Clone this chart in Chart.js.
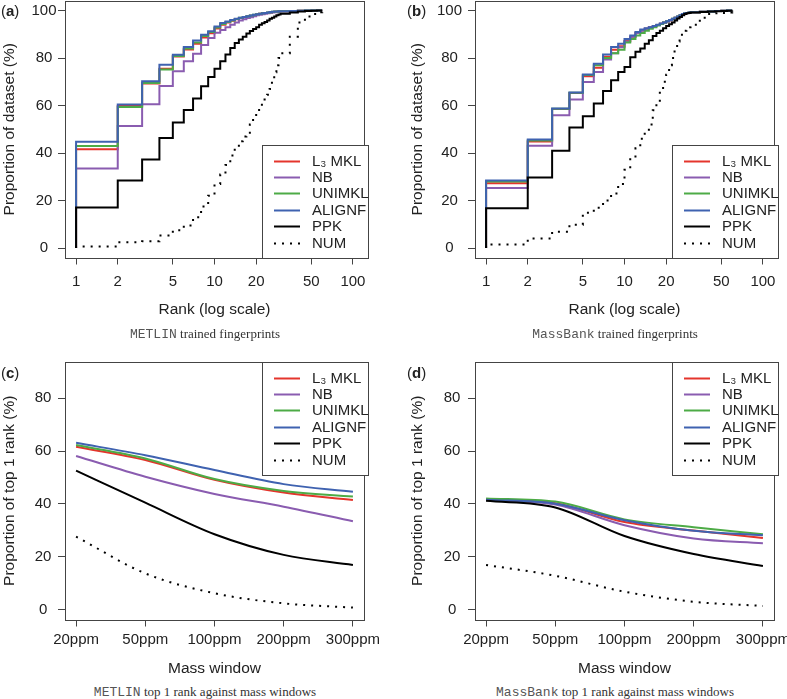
<!DOCTYPE html>
<html>
<head>
<meta charset="utf-8">
<script src="https://cdn.jsdelivr.net/npm/chart.js@4.4.0/dist/chart.umd.min.js"></script>
<style>
  body { margin: 0; background: #fff; }
  #page { position: relative; width: 787px; height: 699px; overflow: hidden; }
  canvas { position: absolute; }
  .tag { position: absolute; font: 15px "Liberation Sans", Arial, sans-serif; color: #222; }
  .tag b { font-weight: bold; }
  .cap { position: absolute; width: 390px; text-align: center; font: 13px "Liberation Serif", serif; color: #333; line-height: 16px; }
  .cap span { font-family: "Liberation Mono", monospace; color: #555; }
</style>
</head>
<body>
<div id="page">
  <canvas id="chartA" style="left:0;top:0"></canvas>
  <canvas id="chartB" style="left:410px;top:0"></canvas>
  <canvas id="chartC" style="left:0;top:345px"></canvas>
  <canvas id="chartD" style="left:410px;top:345px"></canvas>
  <div class="tag" style="left:1px;top:2px">(<b>a</b>)</div>
  <div class="tag" style="left:407px;top:2px">(<b>b</b>)</div>
  <div class="tag" style="left:1px;top:364px">(<b>c</b>)</div>
  <div class="tag" style="left:407px;top:364px">(<b>d</b>)</div>
  <div class="cap" style="left:10px;top:326px"><span>METLIN</span> trained fingerprints</div>
  <div class="cap" style="left:420px;top:326px"><span>MassBank</span> trained fingerprints</div>
  <div class="cap" style="left:10px;top:684px"><span>METLIN</span> top 1 rank against mass windows</div>
  <div class="cap" style="left:420px;top:684px"><span>MassBank</span> top 1 rank against mass windows</div>
</div>
<script>
// series names and colours
const names = ['L\u2083 MKL', 'NB', 'UNIMKL', 'ALIGNF', 'PPK', 'NUM'];
const colors = ['#e4352c', '#8a5cb0', '#4dab46', '#3f62b0', '#000000', '#000000'];

// ranks for the top-k curves (a, b)
const ranks = [1,2,3,4,5,6,7,8,9,10,11,12,13,14,15,16,17,18,19,20,21,22,23,24,25,26,27,28,29,30,35,40,45,50,55,60];
const rankTicks = [1, 2, 5, 10, 20, 50, 100];

// (a) METLIN trained fingerprints, % of dataset within rank
const metL3   = [41.6,59.8,69.3,75.5,80.6,83.6,86.0,88.6,90.4,92.4,94.0,95.0,95.7,96.3,96.8,97.2,97.5,97.8,98.1,98.4,98.6,98.8,99.0,99.1,99.3,99.4,99.5,99.6,99.7,99.7,99.8,99.9,100,100,100,100];
const metNB   = [33.5,51.4,60.5,68.2,74.4,78.6,81.8,85.5,88.4,90.6,91.8,92.9,94.0,95.0,95.8,96.3,96.8,97.2,97.6,98.0,98.2,98.4,98.6,98.8,99.0,99.2,99.3,99.4,99.5,99.6,99.8,99.9,100,100,100,100];
const metUNI  = [43.0,59.4,69.5,75.2,80.8,84.0,86.5,89.3,91.0,92.8,94.3,95.2,95.8,96.4,96.9,97.3,97.6,97.9,98.2,98.4,98.6,98.8,99.0,99.2,99.3,99.5,99.6,99.6,99.7,99.7,99.8,99.9,100,100,100,100];
const metALI  = [44.7,60.4,70.2,77.2,81.4,84.6,87.4,89.8,91.3,93.3,94.7,95.4,96.0,96.5,97.0,97.3,97.6,97.9,98.2,98.4,98.6,98.8,99.0,99.2,99.4,99.5,99.6,99.6,99.7,99.7,99.8,99.9,100,100,100,100];
const metPPK  = [17.1,28.4,37.3,46.3,52.8,58.1,63.0,68.1,72.0,75.5,78.6,81.5,84.2,86.3,87.8,89.0,90.3,91.4,92.2,93.0,94.0,94.6,95.2,95.8,96.5,97.0,97.5,98.0,98.3,98.6,99.2,99.6,99.8,99.9,100,100];
const metNUM  = [0.6,2.4,2.8,5.3,7.5,9.5,13.0,17.5,22.0,27.0,31.0,35.0,39.0,42.5,45.0,47.0,48.5,52.0,55.0,57.5,59.5,61.0,62.5,64.5,67.0,70.0,74.0,77.0,80.0,82.0,89.0,95.0,97.5,98.5,99.3,100];

// (b) MassBank trained fingerprints
const mbL3    = [27.3,44.8,58.5,65.3,72.3,75.9,80.5,83.5,85.0,87.2,89.0,90.6,91.6,92.3,92.9,93.4,93.9,94.4,94.9,95.4,95.9,96.4,96.9,97.4,97.9,98.4,98.7,98.9,99.1,99.3,99.5,99.6,99.8,99.9,100,100];
const mbNB    = [25.3,43.1,55.9,62.5,69.9,74.1,79.4,82.0,84.5,87.0,89.0,90.5,91.5,92.3,92.9,93.4,93.9,94.4,94.9,95.4,95.9,96.4,96.9,97.4,97.9,98.4,98.7,98.9,99.1,99.3,99.5,99.6,99.8,99.9,100,100];
const mbUNI   = [28.0,45.3,58.6,65.4,72.8,77.0,80.0,82.0,83.5,86.5,88.0,89.5,90.5,91.5,92.3,93.0,93.7,94.3,94.9,95.5,96.0,96.5,97.0,97.5,98.0,98.5,98.8,99.0,99.2,99.3,99.5,99.6,99.8,99.9,100,100];
const mbALI   = [28.4,45.7,58.7,65.5,73.1,77.6,81.5,84.6,86.0,88.0,89.5,91.0,92.0,92.5,93.0,93.5,94.0,94.5,95.0,95.5,96.0,96.5,97.0,97.5,98.0,98.5,98.8,99.0,99.2,99.3,99.5,99.6,99.8,99.9,100,100];
const mbPPK   = [16.7,29.7,40.9,50.7,55.5,60.8,66.1,70.6,74.1,76.2,80.3,82.6,84.0,86.0,87.5,89.3,90.5,91.5,92.5,93.5,94.2,95.0,95.8,96.6,97.3,98.0,98.5,98.8,99.0,99.2,99.4,99.6,99.7,99.8,99.9,100];
const mbNUM   = [1.5,4.0,6.8,9.8,14.8,17.0,20.0,23.0,27.0,33.0,38.0,42.0,46.0,49.0,52.0,58.0,62.0,66.0,70.0,73.0,77.0,80.0,84.0,87.0,89.0,90.5,91.5,92.5,93.0,94.0,97.0,98.5,98.8,99.0,99.2,100];

// (c, d) top 1 rank against mass window
const windows = ['20ppm', '50ppm', '100ppm', '200ppm', '300ppm'];
const metWinL3  = [61.6, 56.6, 49.1, 44.3, 41.5];
const metWinNB  = [58.1, 50.3, 43.8, 39.0, 33.5];
const metWinUNI = [62.3, 57.2, 49.4, 44.9, 42.8];
const metWinALI = [63.1, 58.4, 52.8, 47.5, 44.6];
const metWinPPK = [52.6, 40.5, 28.6, 20.8, 17.0];
const metWinNUM = [27.7, 13.8, 6.3, 2.5, 0.9];

const mbWinL3  = [41.8, 40.3, 33.2, 30.0, 27.2];
const mbWinNB  = [41.5, 39.8, 32.0, 27.0, 25.2];
const mbWinUNI = [42.1, 40.9, 34.2, 31.2, 28.6];
const mbWinALI = [41.6, 40.1, 33.9, 29.9, 28.2];
const mbWinPPK = [41.2, 38.7, 27.9, 21.1, 16.6];
const mbWinNUM = [17.0, 12.9, 6.9, 3.1, 1.5];

const yTicksRank = [0, 20, 40, 60, 80, 100];
const yTicksWin = [0, 20, 40, 60, 80];

const FONT = '"Liberation Sans", Arial, sans-serif';
const INK = '#222';
const BOX = '#444';

// frame around the plot region and the boxed legend
const frameLegend = {
  id: 'frameLegend',
  afterDatasetsDraw(chart, args, opts) {
    const {ctx, chartArea: a} = chart;
    ctx.save();
    ctx.strokeStyle = BOX;
    ctx.lineWidth = 1;
    const l = Math.round(a.left), t = Math.round(a.top), r = Math.round(a.right), b = Math.round(a.bottom);
    ctx.strokeRect(l + 0.5, t + 0.5, r - l, b - t);
    const w = 106, h = 113;
    const x0 = r + 4 - w;
    const y0 = opts.where === 'bottom' ? b - h : t;
    ctx.fillStyle = '#fff';
    ctx.fillRect(x0, y0, w, h);
    ctx.strokeRect(x0 + 0.5, y0 + 0.5, w, h);
    ctx.font = '15px ' + FONT;
    ctx.textBaseline = 'middle';
    chart.data.datasets.forEach((ds, i) => {
      const y = Math.round(y0 + 15.5 + i * 16.4) + 0.5;
      ctx.beginPath();
      ctx.setLineDash(ds.borderDash || []);
      ctx.strokeStyle = ds.borderColor;
      ctx.lineWidth = 2;
      ctx.moveTo(x0 + 12, y);
      ctx.lineTo(x0 + 38, y);
      ctx.stroke();
      ctx.setLineDash([]);
      ctx.fillStyle = INK;
      ctx.fillText(ds.label, x0 + 50, y);
    });
    ctx.restore();
  }
};

function lineSets(series, xs, stepped) {
  return series.map((vals, i) => {
    let pts = vals.map((v, j) => ({x: xs[j], y: v}));
    if (stepped) pts = [{x: xs[0], y: 0}].concat(pts);
    return {
      label: names[i],
      data: pts,
      borderColor: colors[i],
      borderWidth: 2,
      borderDash: i === 5 ? [2, 6] : [],
      borderCapStyle: 'butt',
      pointRadius: 0,
      stepped: stepped ? 'before' : false,
      cubicInterpolationMode: 'monotone',
      order: -i
    };
  });
}

function makePanel(id, g) {
  const el = document.getElementById(id);
  el.width = g.W; el.height = g.H;
  const tickFont = {family: FONT, size: 15};
  const titleFont = {family: FONT, size: 15.5};
  return new Chart(el, {
    type: 'line',
    data: {datasets: g.datasets},
    options: {
      responsive: false,
      animation: false,
      layout: {padding: {left: 0, top: g.top, right: g.W - g.right, bottom: 0}},
      plugins: {legend: {display: false}, tooltip: {enabled: false}, frameLegend: {where: g.legend}},
      scales: {
        x: {
          type: g.xType,
          min: g.xMin, max: g.xMax,
          bounds: 'data',
          afterBuildTicks: s => { s.ticks = g.xTicks.map(v => ({value: v})); },
          afterFit: s => { s.height = g.H - g.bottom; s.paddingLeft = 0; s.paddingRight = 0; },
          grid: {drawOnChartArea: false, tickLength: 7, color: BOX},
          border: {display: false},
          ticks: {font: tickFont, color: INK, padding: g.xPad, maxRotation: 0, autoSkip: false, callback: g.xLabel},
          title: {display: true, text: g.xTitle, font: titleFont, color: INK, padding: {top: 0, bottom: g.xTitlePad}}
        },
        y: {
          min: g.yMin, max: g.yMax,
          bounds: 'data',
          afterBuildTicks: s => { s.ticks = g.yTicks.map(v => ({value: v})); },
          afterFit: s => { s.width = g.left; s.paddingTop = 0; s.paddingBottom = 0; },
          grid: {drawOnChartArea: false, tickLength: 7, color: BOX},
          border: {display: false},
          ticks: {font: tickFont, color: INK, padding: g.yPad, crossAlign: 'center', callback: v => String(v)},
          title: {display: true, text: g.yTitle, font: titleFont, color: INK, padding: {top: g.yTitlePad, bottom: 0}}
        }
      }
    },
    plugins: [frameLegend]
  });
}

const rankPanel = {
  W: 390, H: 325, left: 65, top: 1, right: 364, bottom: 257.5,
  xType: 'logarithmic', xMin: Math.pow(10, -0.08), xMax: Math.pow(10, 2.08), xTicks: rankTicks,
  xLabel: v => String(v), xPad: 8.5, xTitle: 'Rank (log scale)', xTitlePad: 5.7,
  yMin: -4, yMax: 104, yTicks: yTicksRank, yTitle: 'Proportion of dataset (%)', legend: 'bottom'
};
const winPanel = {
  W: 390, H: 335, left: 65, top: 17, right: 364, bottom: 274.5,
  xType: 'linear', xMin: 0.84, xMax: 5.16, xTicks: [1, 2, 3, 4, 5],
  xLabel: v => windows[v - 1], xPad: 4.4, xTitle: 'Mass window', xTitlePad: 2,
  yMin: -3.6, yMax: 93.6, yTicks: yTicksWin, yTitle: 'Proportion of top 1 rank (%)', legend: 'top'
};

makePanel('chartA', Object.assign({}, rankPanel, {yPad: 1.5, yTitlePad: 0.4,
  datasets: lineSets([metL3, metNB, metUNI, metALI, metPPK, metNUM], ranks, true)}));
makePanel('chartB', Object.assign({}, rankPanel, {W: 377, yPad: 6, yTitlePad: -1.6,
  datasets: lineSets([mbL3, mbNB, mbUNI, mbALI, mbPPK, mbNUM], ranks, true)}));
makePanel('chartC', Object.assign({}, winPanel, {yPad: 6.6, yTitlePad: 0.4,
  datasets: lineSets([metWinL3, metWinNB, metWinUNI, metWinALI, metWinPPK, metWinNUM], [1, 2, 3, 4, 5], false)}));
makePanel('chartD', Object.assign({}, winPanel, {W: 377, yPad: 7.6, yTitlePad: -1.6,
  datasets: lineSets([mbWinL3, mbWinNB, mbWinUNI, mbWinALI, mbWinPPK, mbWinNUM], [1, 2, 3, 4, 5], false)}));
</script>
</body>
</html>
